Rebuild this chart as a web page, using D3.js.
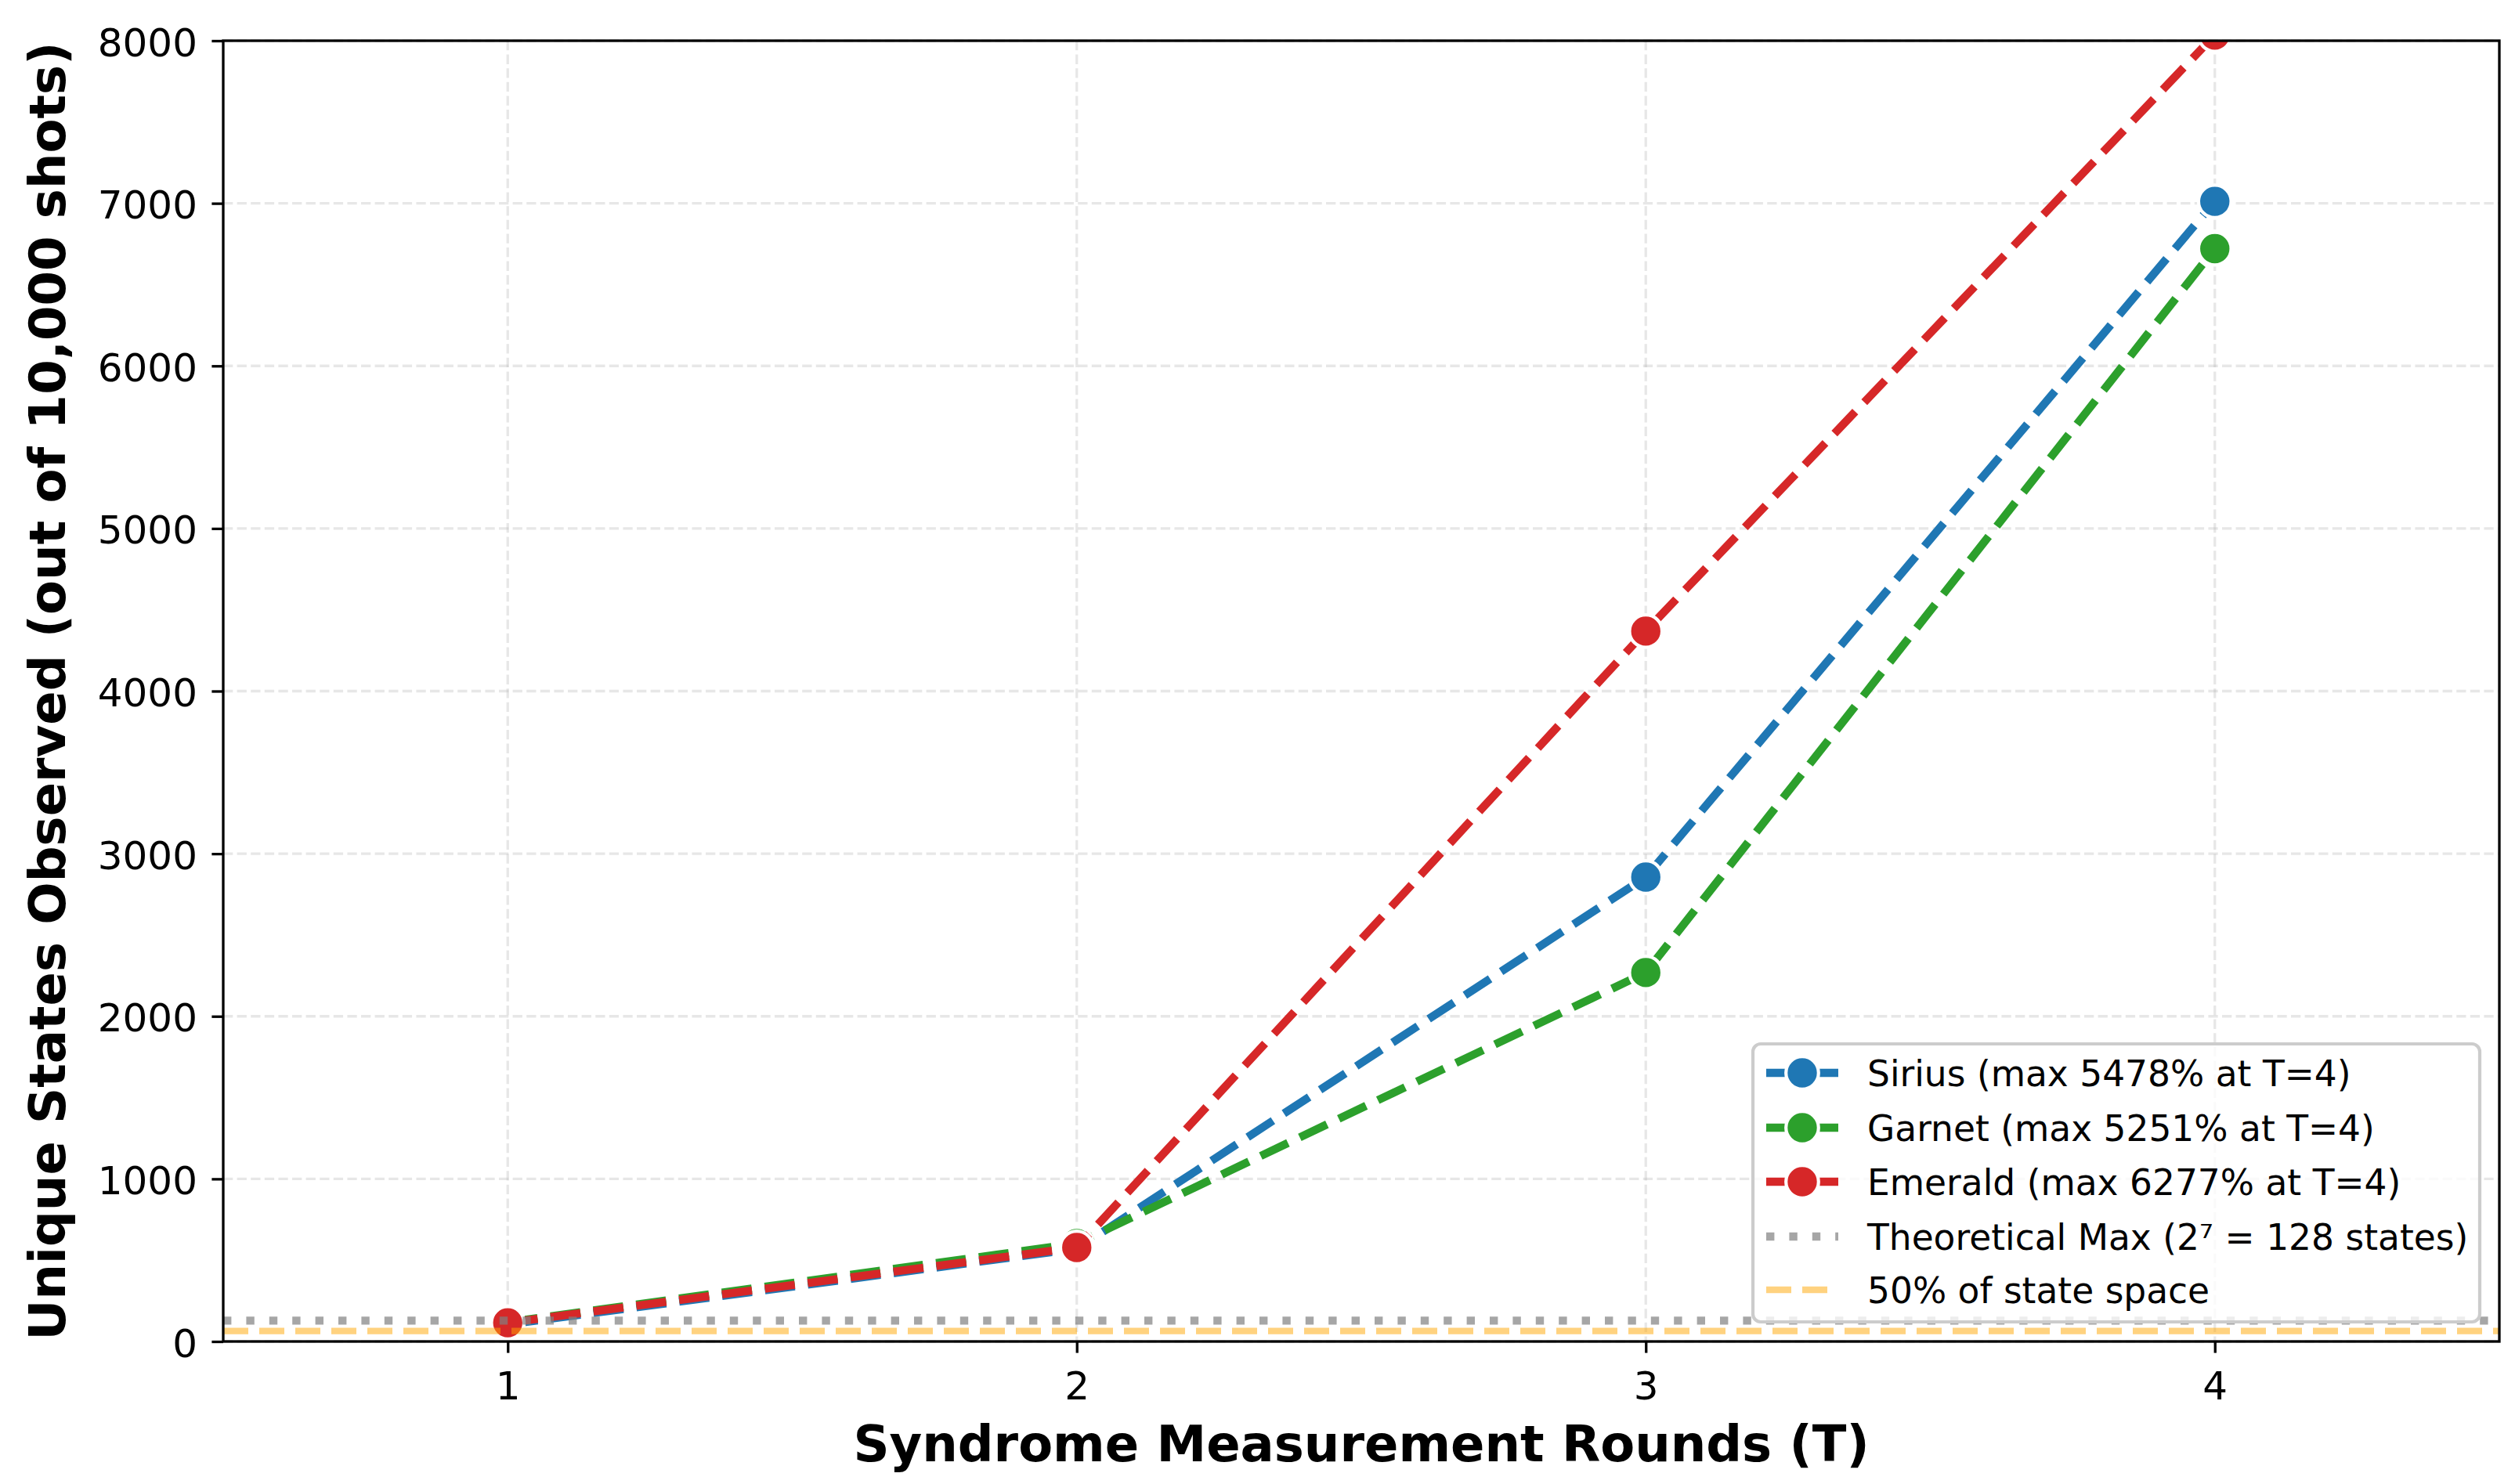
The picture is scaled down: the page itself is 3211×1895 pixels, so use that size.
<!DOCTYPE html>
<html>
<head>
<meta charset="utf-8">
<script src="https://cdn.jsdelivr.net/npm/d3@7"></script>
<style>
  body { margin: 0; background: #fff; }
  text { font-family: "DejaVu Sans", sans-serif; }
</style>
</head>
<body>
<div id="chart"></div>
<script>
// data
const rounds = [1, 2, 3, 4];
const sirius = [105, 570, 2856, 7012];
const garnet = [118, 602, 2269, 6721];
const emerald = [115, 578, 4369, 8035];
const seriesNames = ["Sirius", "Garnet", "Emerald"];
const seriesColors = ["#1f77b4", "#2ca02c", "#d62728"];
const legendLabels = [
    "Sirius (max 5478% at T=4)",
    "Garnet (max 5251% at T=4)",
    "Emerald (max 6277% at T=4)",
    "Theoretical Max (2\u2077 = 128 states)",
    "50% of state space"
];
const yTicks = [0, 1000, 2000, 3000, 4000, 5000, 6000, 7000, 8000];
const xTicks = [1, 2, 3, 4];
const theoreticalMax = 128;
const halfSpace = 64;

var W = 3211, H = 1895;
var margin = {top: 52, right: 20, bottom: 182, left: 285};
var width = W - margin.left - margin.right,
    height = H - margin.top - margin.bottom;

var svg = d3.select("#chart")
    .append("svg")
    .attr("width", W)
    .attr("height", H)
    .style("background", "#fff");

var g = svg.append("g")
    .attr("transform", "translate(" + margin.left + "," + margin.top + ")");

var x = d3.scaleLinear().domain([0.5, 4.5]).range([0, width]);
var y = d3.scaleLinear().domain([0, 8000]).range([height, 0]);

g.append("clipPath").attr("id", "clip")
    .append("rect").attr("width", width).attr("height", height);

// grid
var grid = g.append("g");
grid.selectAll(".gy").data(yTicks).enter().append("line")
    .attr("x1", 0).attr("x2", width)
    .attr("y1", d => y(d)).attr("y2", d => y(d))
    .attr("stroke", "#b0b0b0").attr("stroke-opacity", 0.3)
    .attr("stroke-width", 3.3).attr("stroke-dasharray", "12.3,5.3");
grid.selectAll(".gx").data(xTicks).enter().append("line")
    .attr("y1", 0).attr("y2", height)
    .attr("x1", d => x(d)).attr("x2", d => x(d))
    .attr("stroke", "#b0b0b0").attr("stroke-opacity", 0.3)
    .attr("stroke-width", 3.3).attr("stroke-dasharray", "12.3,5.3");

// series
var allSeries = [sirius, garnet, emerald];
var line = d3.line()
    .x((d, i) => x(rounds[i]))
    .y(d => y(d));

var plot = g.append("g").attr("clip-path", "url(#clip)");

allSeries.forEach(function (vals, si) {
    plot.append("path")
        .datum(vals)
        .attr("d", line)
        .attr("fill", "none")
        .attr("stroke", seriesColors[si])
        .attr("stroke-width", 10.4)
        .attr("stroke-dasharray", "38.5,16.7")
        .attr("stroke-linejoin", "round");
    plot.selectAll(".m" + si)
        .data(vals)
        .enter()
        .append("circle")
        .attr("cx", (d, i) => x(rounds[i]))
        .attr("cy", d => y(d))
        .attr("r", 20.8)
        .attr("fill", seriesColors[si])
        .attr("stroke", "#fff")
        .attr("stroke-width", 4.2);
});

// reference lines
plot.append("line")
    .attr("x1", 0).attr("x2", width)
    .attr("y1", y(theoreticalMax)).attr("y2", y(theoreticalMax))
    .attr("stroke", "#808080").attr("stroke-opacity", 0.7)
    .attr("stroke-width", 10.4).attr("stroke-dasharray", "10.4,19");
plot.append("line")
    .attr("x1", 0).attr("x2", width)
    .attr("y1", y(halfSpace)).attr("y2", y(halfSpace))
    .attr("stroke", "#ffa500").attr("stroke-opacity", 0.5)
    .attr("stroke-width", 8.3).attr("stroke-dasharray", "32,14");

// axes
var yAxis = g.append("g")
    .call(d3.axisLeft(y).tickValues(yTicks).tickSize(14.6).tickPadding(14.6).tickFormat(d3.format("d")));
yAxis.select(".domain").remove();
yAxis.selectAll("line").attr("stroke", "#000").attr("stroke-width", 3.3);
yAxis.selectAll("text")
    .attr("x", -33).attr("dy", "19px")
    .style("font-size", "50px").attr("fill", "#000");

var xAxis = g.append("g")
    .attr("transform", "translate(0," + height + ")")
    .call(d3.axisBottom(x).tickValues(xTicks).tickSize(14.6).tickPadding(14.6).tickFormat(d3.format("d")));
xAxis.select(".domain").remove();
xAxis.selectAll("line").attr("stroke", "#000").attr("stroke-width", 3.3);
xAxis.selectAll("text")
    .attr("y", 74).attr("dy", 0)
    .style("font-size", "50px").attr("fill", "#000");

// spines
g.append("rect")
    .attr("width", width).attr("height", height)
    .attr("fill", "none").attr("stroke", "#000").attr("stroke-width", 3.3);

// axis labels
svg.append("text")
    .attr("x", margin.left + width / 2).attr("y", 1866)
    .attr("text-anchor", "middle")
    .style("font-size", "64px").style("font-weight", "bold")
    .text("Syndrome Measurement Rounds (T)");

svg.append("text")
    .attr("transform", "translate(83," + (margin.top + height / 2) + ") rotate(-90)")
    .attr("text-anchor", "middle")
    .style("font-size", "64px").style("font-weight", "bold")
    .text("Unique States Observed (out of 10,000 shots)");

// legend
var lg = svg.append("g");
lg.append("rect")
    .attr("x", 2238).attr("y", 1333)
    .attr("width", 928).attr("height", 355)
    .attr("rx", 10)
    .attr("fill", "#fff").attr("fill-opacity", 0.8)
    .attr("stroke", "#cccccc").attr("stroke-width", 4.2);

var rowY = [1370, 1440, 1509, 1579, 1647];
var hx0 = 2255, hx1 = 2347;

seriesNames.forEach(function (name, i) {
    lg.append("line")
        .attr("x1", hx0).attr("x2", hx1)
        .attr("y1", rowY[i]).attr("y2", rowY[i])
        .attr("stroke", seriesColors[i]).attr("stroke-width", 10.4)
        .attr("stroke-dasharray", "38.5,16.7");
    lg.append("circle")
        .attr("cx", (hx0 + hx1) / 2).attr("cy", rowY[i]).attr("r", 20.8)
        .attr("fill", seriesColors[i]).attr("stroke", "#fff").attr("stroke-width", 4.2);
});
lg.append("line")
    .attr("x1", hx0).attr("x2", hx1)
    .attr("y1", rowY[3]).attr("y2", rowY[3])
    .attr("stroke", "#808080").attr("stroke-opacity", 0.7)
    .attr("stroke-width", 10.4).attr("stroke-dasharray", "10.4,19");
lg.append("line")
    .attr("x1", hx0).attr("x2", hx1)
    .attr("y1", rowY[4]).attr("y2", rowY[4])
    .attr("stroke", "#ffa500").attr("stroke-opacity", 0.5)
    .attr("stroke-width", 8.3).attr("stroke-dasharray", "32,14");

lg.selectAll(".lt")
    .data(legendLabels)
    .enter()
    .append("text")
    .attr("x", 2384)
    .attr("y", (d, i) => rowY[i] + 17)
    .style("font-size", "45.5px")
    .attr("fill", "#000")
    .text(d => d);
</script>
</body>
</html>
